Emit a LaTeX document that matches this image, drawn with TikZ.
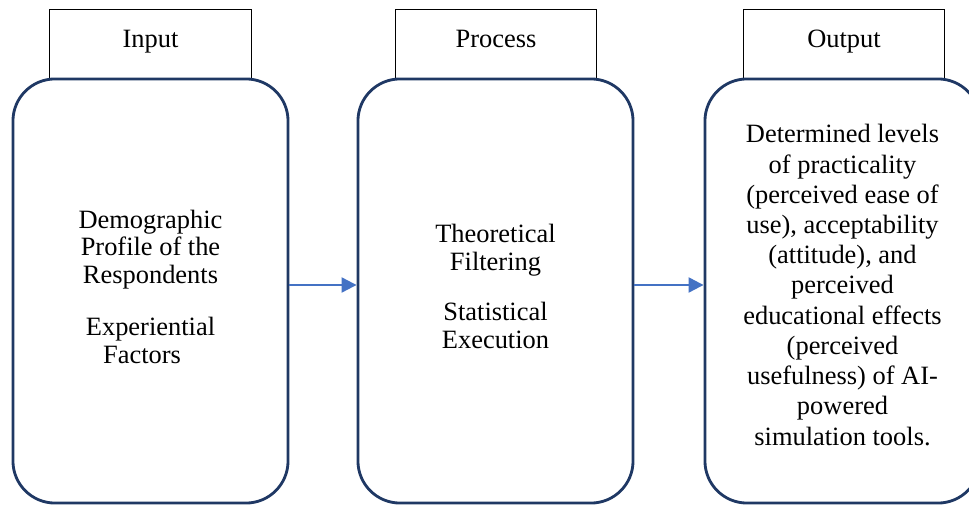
\documentclass[tikz,border=0pt]{standalone}
\usepackage{fontspec}
\setmainfont{Liberation Serif}
\usetikzlibrary{arrows.meta}
\definecolor{boxnavy}{HTML}{1F3864}
\definecolor{arrowblue}{HTML}{4472C4}
\newcommand{\bodyfont}{\fontsize{18.8}{19.6}\selectfont}
\tikzset{
  stagebox/.style={draw=boxnavy, line width=2pt, rounded corners=1.05cm,
    minimum width=6.875cm, minimum height=10.6cm},
  stagetext/.style={align=center, font=\bodyfont},
  headbox/.style={draw=black, line width=0.7pt, minimum width=5.025cm,
    minimum height=1.725cm, text height=0.46cm, text depth=0.33cm, font=\bodyfont},
  flowarrow/.style={draw=arrowblue, line width=1.6pt,
    -{Triangle[length=0.375cm,width=0.375cm]}}
}
\begin{document}
\begin{tikzpicture}[x=0.025cm, y=-0.025cm]
        \useasboundingbox (0,0) rectangle (969,505);
        \clip (0,0) rectangle (969,505);
        % 三个标题框
        \node[headbox] (inhead) at (150.5,44.5) {Input};
        \node[headbox] (prochead) at (496,44.5) {Process};
        \node[headbox] (outhead) at (844,44.5) {Output};
        % 三个圆角框
        \node[stagebox] (input) at (150.5,291) {};
        \node[stagebox] (process) at (495.5,291) {};
        \node[stagebox] (output) at (842.5,291) {};
        % 框内文字
        \node[stagetext] (intext) at (150.5,286.5) {Demographic\\Profile of the\\Respondents\\[0.62cm]Experiential\\\hspace*{-0.425cm}Factors};
        \node[stagetext] (proctext) at (495.5,286.5) {Theoretical\\Filtering\\[0.58cm]Statistical\\Execution};
        \node[stagetext, font=\fontsize{18.8}{21.5}\selectfont] (outtext) at (842.5,285) {Determined levels\\of practicality\\(perceived ease of\\use), acceptability\\(attitude), and\\perceived\\educational effects\\(perceived\\usefulness) of AI-\\powered\\simulation tools.};
        % 两个箭头
        \draw[flowarrow] ([yshift=0.15cm]input.east) -- ([yshift=0.15cm]process.west);
        \draw[flowarrow] ([yshift=0.15cm]process.east) -- ([yshift=0.15cm]output.west);
      \end{tikzpicture}
\end{document}
